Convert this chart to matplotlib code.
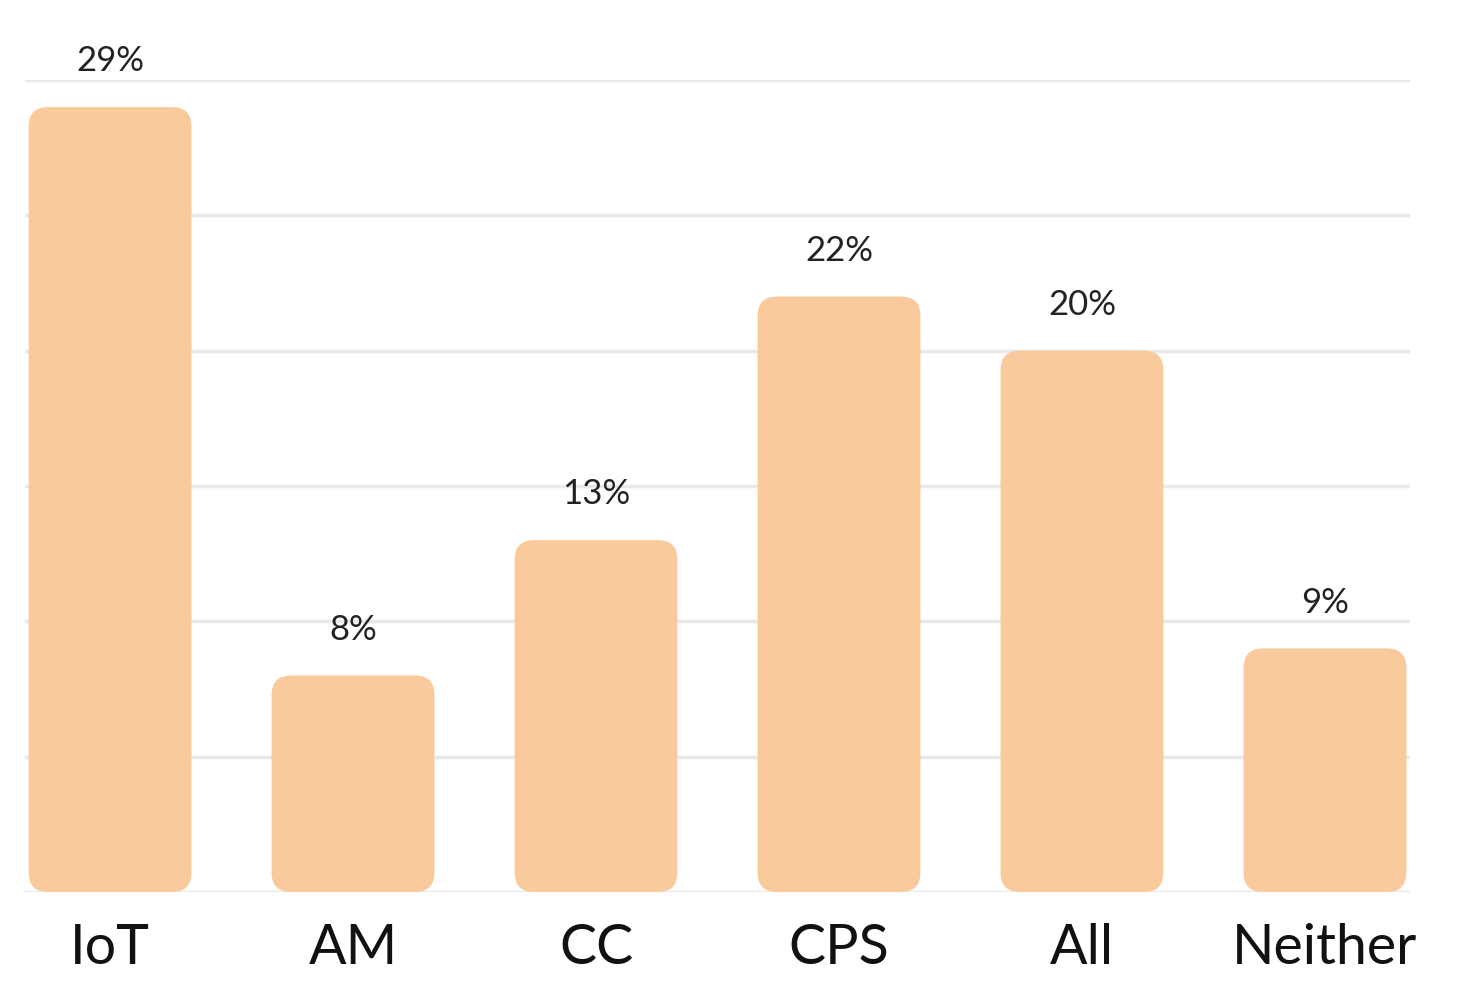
import matplotlib

matplotlib.use("Agg")

import matplotlib.pyplot as plt
from matplotlib.patches import FancyBboxPatch

categories = ["IoT", "AM", "CC", "CPS", "All", "Neither"]
values = [29, 8, 13, 22, 20, 9]
labels = ["29%", "8%", "13%", "22%", "20%", "9%"]

BAR_COLOR = "#F9CB9C"
BAR_WIDTH = 0.67

fig = plt.figure(figsize=(14.65, 10.01), dpi=100)
ax = fig.add_axes([25 / 1465, 1 - 892 / 1001, 1385 / 1465, 812 / 1001])
ax.set_xlim(-0.35, 5.35)
ax.set_ylim(0, 30)

for y in range(0, 31, 5):
    ax.axhline(y, color="#e9e9e9", linewidth=2.5, zorder=0)

# aspect between y data units and x data units per pixel
aspect = (30 / 812) / (5.7 / 1385)
for i, (v, lab) in enumerate(zip(values, labels)):
    patch = FancyBboxPatch(
        (i - BAR_WIDTH / 2, 0.0), BAR_WIDTH, v,
        boxstyle="round,pad=0,rounding_size=0.08",
        mutation_aspect=aspect,
        facecolor=BAR_COLOR, edgecolor="none", zorder=2,
    )
    ax.add_patch(patch)
    ax.text(i, v + 1.1, lab, ha="center", va="bottom", fontsize=25,
            family="Lato", color="#222222")

ax.set_xticks(range(len(categories)))
ax.set_xticklabels(categories, fontsize=40, family="Lato", color="#111111")
ax.tick_params(axis="x", length=0, pad=22)
ax.set_yticks([])
for s in ax.spines.values():
    s.set_visible(False)

fig.savefig("out.png", dpi=100)
